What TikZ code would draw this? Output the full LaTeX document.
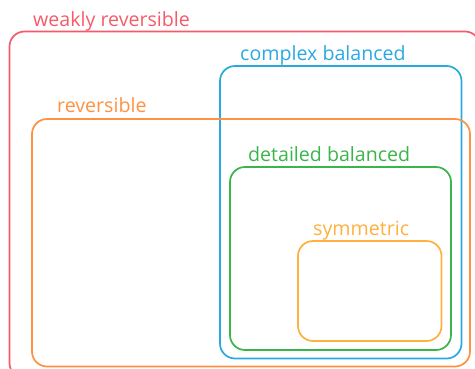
\documentclass[tikz,border=0pt]{standalone}
\usepackage{fontspec}
\setmainfont{Open Sans}
\usepackage{tikz}

\definecolor{weakred}{HTML}{F65A6A}
\definecolor{cbblue}{HTML}{2AA9E0}
\definecolor{revorange}{HTML}{FF9142}
\definecolor{dbgreen}{HTML}{3AB54A}
\definecolor{symyellow}{HTML}{FFB03E}

\tikzset{
    setbox/.style={draw=#1, line width=1.7pt, rounded corners=15pt},
    setlabel/.style={text=#1, anchor=base west, inner sep=0pt, font=\fontsize{19.6}{22}\selectfont}
}

\begin{document}
\begin{tikzpicture}[x=1pt,y=-1pt]
        \useasboundingbox (0,0) rectangle (475,369);
        \clip (0,0) rectangle (475,369);
        % weakly reversible
        \begin{scope}
            \coordinate (wr nw) at (9.5,31.5);
            \coordinate (wr se) at (480,378);
            \draw[setbox=weakred] (wr nw) rectangle (wr se);
            \node[setlabel=weakred] (wr label) at (33,27) {weakly reversible};
        \end{scope}
        % complex balanced
        \begin{scope}
            \coordinate (cb nw) at (220,66);
            \coordinate (cb se) at (461.5,358.5);
            \draw[setbox=cbblue] (cb nw) rectangle (cb se);
            \node[setlabel=cbblue] (cb label) at (240,61) {complex balanced};
        \end{scope}
        % reversible
        \begin{scope}
            \coordinate (rev nw) at (32,119);
            \coordinate (rev se) at (470,366.5);
            \draw[setbox=revorange] (rev nw) rectangle (rev se);
            \node[setlabel=revorange] (rev label) at (57,113) {reversible};
        \end{scope}
        % detailed balanced
        \begin{scope}
            \coordinate (db nw) at (230,167);
            \coordinate (db se) at (451,350);
            \draw[setbox=dbgreen] (db nw) rectangle (db se);
            \node[setlabel=dbgreen] (db label) at (248,162) {detailed balanced};
        \end{scope}
        % symmetric
        \begin{scope}
            \coordinate (sym nw) at (298,241);
            \coordinate (sym se) at (441.5,341);
            \draw[setbox=symyellow] (sym nw) rectangle (sym se);
            \node[setlabel=symyellow] (sym label) at (313,235.5) {symmetric};
        \end{scope}
    \end{tikzpicture}
\end{document}
